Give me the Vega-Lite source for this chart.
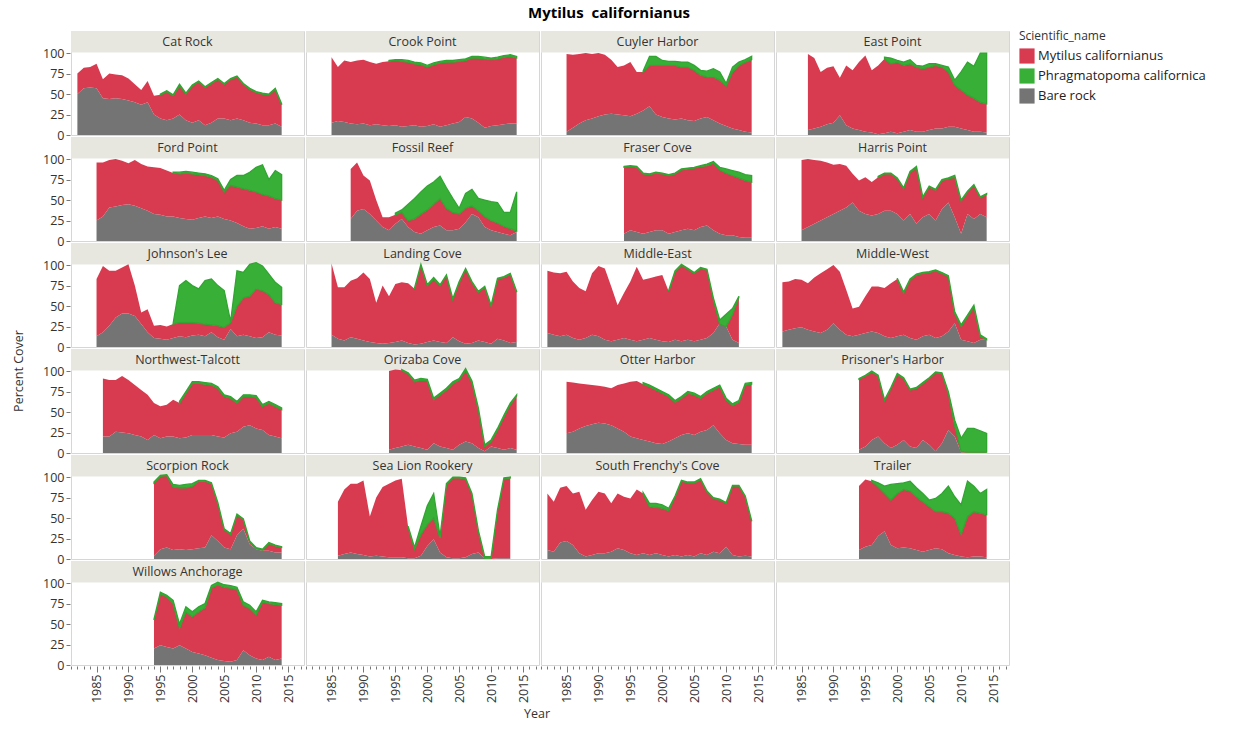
{
"$schema": "https://vega.github.io/schema/vega-lite/v6.json",
"padding": {"left": 12, "top": 5, "right": 5, "bottom": 2},
"title": {"text": "Mytilus\u00a0 californianus", "fontSize": 15, "fontWeight": "bold", "anchor": "middle", "color": "#000", "offset": 10},
"datasets": {"cover": [
{"s":"Cat Rock","yr":1982,"b":50,"m":75},{"s":"Cat Rock","yr":1983,"b":57,"m":82},{"s":"Cat Rock","yr":1984,"b":58,"m":83},{"s":"Cat Rock","yr":1985,"b":57,"m":87},{"s":"Cat Rock","yr":1986,"b":45,"m":68},{"s":"Cat Rock","yr":1987,"b":44,"m":75},{"s":"Cat Rock","yr":1988,"b":45,"m":74},{"s":"Cat Rock","yr":1989,"b":44,"m":73},{"s":"Cat Rock","yr":1990,"b":42,"m":69},{"s":"Cat Rock","yr":1991,"b":40,"m":62},{"s":"Cat Rock","yr":1992,"b":37,"m":55},{"s":"Cat Rock","yr":1993,"b":40,"m":66},{"s":"Cat Rock","yr":1994,"b":25,"m":48},{"s":"Cat Rock","yr":1995,"b":20,"m":49,"t":50},{"s":"Cat Rock","yr":1996,"b":18,"m":53,"t":54},{"s":"Cat Rock","yr":1997,"b":20,"m":48,"t":49},{"s":"Cat Rock","yr":1998,"b":25,"m":60,"t":62},{"s":"Cat Rock","yr":1999,"b":18,"m":50,"t":51},{"s":"Cat Rock","yr":2000,"b":15,"m":60,"t":61},{"s":"Cat Rock","yr":2001,"b":18,"m":65,"t":66},{"s":"Cat Rock","yr":2002,"b":12,"m":58,"t":59},{"s":"Cat Rock","yr":2003,"b":15,"m":63,"t":64},{"s":"Cat Rock","yr":2004,"b":20,"m":68,"t":69},{"s":"Cat Rock","yr":2005,"b":20,"m":62,"t":63},{"s":"Cat Rock","yr":2006,"b":18,"m":68,"t":69},{"s":"Cat Rock","yr":2007,"b":20,"m":71,"t":72},{"s":"Cat Rock","yr":2008,"b":18,"m":62,"t":63},{"s":"Cat Rock","yr":2009,"b":15,"m":56,"t":57},{"s":"Cat Rock","yr":2010,"b":14,"m":52,"t":53},{"s":"Cat Rock","yr":2011,"b":12,"m":50,"t":51},{"s":"Cat Rock","yr":2012,"b":12,"m":49,"t":50},{"s":"Cat Rock","yr":2013,"b":14,"m":56,"t":57},{"s":"Cat Rock","yr":2014,"b":10,"m":37,"t":38},
{"s":"Crook Point","yr":1985,"b":15,"m":95},{"s":"Crook Point","yr":1986,"b":17,"m":83},{"s":"Crook Point","yr":1987,"b":16,"m":91},{"s":"Crook Point","yr":1988,"b":14,"m":89},{"s":"Crook Point","yr":1989,"b":13,"m":91},{"s":"Crook Point","yr":1990,"b":14,"m":92},{"s":"Crook Point","yr":1991,"b":12,"m":89},{"s":"Crook Point","yr":1992,"b":13,"m":87},{"s":"Crook Point","yr":1993,"b":12,"m":89},{"s":"Crook Point","yr":1994,"b":11,"m":90,"t":91},{"s":"Crook Point","yr":1995,"b":12,"m":91,"t":92},{"s":"Crook Point","yr":1996,"b":10,"m":90,"t":92},{"s":"Crook Point","yr":1997,"b":11,"m":89,"t":91},{"s":"Crook Point","yr":1998,"b":12,"m":87,"t":89},{"s":"Crook Point","yr":1999,"b":10,"m":86,"t":88},{"s":"Crook Point","yr":2000,"b":11,"m":83,"t":85},{"s":"Crook Point","yr":2001,"b":13,"m":86,"t":88},{"s":"Crook Point","yr":2002,"b":10,"m":88,"t":90},{"s":"Crook Point","yr":2003,"b":12,"m":89,"t":91},{"s":"Crook Point","yr":2004,"b":14,"m":89,"t":91},{"s":"Crook Point","yr":2005,"b":16,"m":90,"t":92},{"s":"Crook Point","yr":2006,"b":22,"m":91,"t":93},{"s":"Crook Point","yr":2007,"b":20,"m":94,"t":96},{"s":"Crook Point","yr":2008,"b":15,"m":94,"t":96},{"s":"Crook Point","yr":2009,"b":9,"m":93,"t":95},{"s":"Crook Point","yr":2010,"b":11,"m":92,"t":94},{"s":"Crook Point","yr":2011,"b":12,"m":93,"t":95},{"s":"Crook Point","yr":2012,"b":13,"m":95,"t":97},{"s":"Crook Point","yr":2013,"b":14,"m":96,"t":98},{"s":"Crook Point","yr":2014,"b":14,"m":94,"t":96},
{"s":"Cuyler Harbor","yr":1985,"b":4,"m":99},{"s":"Cuyler Harbor","yr":1986,"b":9,"m":98},{"s":"Cuyler Harbor","yr":1987,"b":14,"m":99},{"s":"Cuyler Harbor","yr":1988,"b":18,"m":100},{"s":"Cuyler Harbor","yr":1989,"b":20,"m":99},{"s":"Cuyler Harbor","yr":1990,"b":23,"m":100},{"s":"Cuyler Harbor","yr":1991,"b":25,"m":98},{"s":"Cuyler Harbor","yr":1992,"b":26,"m":92},{"s":"Cuyler Harbor","yr":1993,"b":25,"m":83},{"s":"Cuyler Harbor","yr":1994,"b":24,"m":85},{"s":"Cuyler Harbor","yr":1995,"b":23,"m":89},{"s":"Cuyler Harbor","yr":1996,"b":26,"m":77},{"s":"Cuyler Harbor","yr":1997,"b":30,"m":77,"t":78},{"s":"Cuyler Harbor","yr":1998,"b":35,"m":85,"t":96},{"s":"Cuyler Harbor","yr":1999,"b":25,"m":85,"t":96},{"s":"Cuyler Harbor","yr":2000,"b":22,"m":85,"t":91},{"s":"Cuyler Harbor","yr":2001,"b":20,"m":85,"t":90},{"s":"Cuyler Harbor","yr":2002,"b":19,"m":85,"t":90},{"s":"Cuyler Harbor","yr":2003,"b":20,"m":83,"t":89},{"s":"Cuyler Harbor","yr":2004,"b":18,"m":83,"t":89},{"s":"Cuyler Harbor","yr":2005,"b":17,"m":79,"t":85},{"s":"Cuyler Harbor","yr":2006,"b":20,"m":73,"t":79},{"s":"Cuyler Harbor","yr":2007,"b":22,"m":71,"t":78},{"s":"Cuyler Harbor","yr":2008,"b":18,"m":71,"t":81},{"s":"Cuyler Harbor","yr":2009,"b":14,"m":67,"t":77},{"s":"Cuyler Harbor","yr":2010,"b":11,"m":60,"t":63},{"s":"Cuyler Harbor","yr":2011,"b":8,"m":77,"t":83},{"s":"Cuyler Harbor","yr":2012,"b":6,"m":85,"t":89},{"s":"Cuyler Harbor","yr":2013,"b":4,"m":89,"t":92},{"s":"Cuyler Harbor","yr":2014,"b":3,"m":92,"t":96},
{"s":"East Point","yr":1986,"b":6,"m":99},{"s":"East Point","yr":1987,"b":8,"m":94},{"s":"East Point","yr":1988,"b":10,"m":77},{"s":"East Point","yr":1989,"b":13,"m":82},{"s":"East Point","yr":1990,"b":15,"m":84},{"s":"East Point","yr":1991,"b":24,"m":70},{"s":"East Point","yr":1992,"b":12,"m":85},{"s":"East Point","yr":1993,"b":8,"m":79},{"s":"East Point","yr":1994,"b":6,"m":89},{"s":"East Point","yr":1995,"b":4,"m":97},{"s":"East Point","yr":1996,"b":3,"m":79},{"s":"East Point","yr":1997,"b":1,"m":85},{"s":"East Point","yr":1998,"b":2,"m":93,"t":95},{"s":"East Point","yr":1999,"b":4,"m":87,"t":94},{"s":"East Point","yr":2000,"b":2,"m":89,"t":91},{"s":"East Point","yr":2001,"b":4,"m":85,"t":89},{"s":"East Point","yr":2002,"b":6,"m":87,"t":92},{"s":"East Point","yr":2003,"b":4,"m":83,"t":85},{"s":"East Point","yr":2004,"b":4,"m":81,"t":84},{"s":"East Point","yr":2005,"b":6,"m":83,"t":87},{"s":"East Point","yr":2006,"b":8,"m":85,"t":87},{"s":"East Point","yr":2007,"b":8,"m":83,"t":85},{"s":"East Point","yr":2008,"b":10,"m":77,"t":83},{"s":"East Point","yr":2009,"b":10,"m":61,"t":67},{"s":"East Point","yr":2010,"b":8,"m":55,"t":77},{"s":"East Point","yr":2011,"b":6,"m":49,"t":89},{"s":"East Point","yr":2012,"b":4,"m":45,"t":84},{"s":"East Point","yr":2013,"b":4,"m":40,"t":100},{"s":"East Point","yr":2014,"b":3,"m":38,"t":100},
{"s":"Ford Point","yr":1985,"b":25,"m":96},{"s":"Ford Point","yr":1986,"b":30,"m":96},{"s":"Ford Point","yr":1987,"b":41,"m":99},{"s":"Ford Point","yr":1988,"b":42,"m":100},{"s":"Ford Point","yr":1989,"b":44,"m":98},{"s":"Ford Point","yr":1990,"b":45,"m":95},{"s":"Ford Point","yr":1991,"b":43,"m":99},{"s":"Ford Point","yr":1992,"b":40,"m":94},{"s":"Ford Point","yr":1993,"b":37,"m":91},{"s":"Ford Point","yr":1994,"b":33,"m":90},{"s":"Ford Point","yr":1995,"b":32,"m":89},{"s":"Ford Point","yr":1996,"b":30,"m":86},{"s":"Ford Point","yr":1997,"b":30,"m":83,"t":84},{"s":"Ford Point","yr":1998,"b":28,"m":82,"t":84},{"s":"Ford Point","yr":1999,"b":27,"m":83,"t":85},{"s":"Ford Point","yr":2000,"b":26,"m":82,"t":84},{"s":"Ford Point","yr":2001,"b":28,"m":81,"t":83},{"s":"Ford Point","yr":2002,"b":30,"m":80,"t":82},{"s":"Ford Point","yr":2003,"b":28,"m":78,"t":80},{"s":"Ford Point","yr":2004,"b":30,"m":74,"t":76},{"s":"Ford Point","yr":2005,"b":27,"m":60,"t":62},{"s":"Ford Point","yr":2006,"b":25,"m":68,"t":75},{"s":"Ford Point","yr":2007,"b":22,"m":66,"t":80},{"s":"Ford Point","yr":2008,"b":18,"m":64,"t":80},{"s":"Ford Point","yr":2009,"b":15,"m":62,"t":84},{"s":"Ford Point","yr":2010,"b":16,"m":60,"t":90},{"s":"Ford Point","yr":2011,"b":18,"m":57,"t":93},{"s":"Ford Point","yr":2012,"b":15,"m":55,"t":75},{"s":"Ford Point","yr":2013,"b":17,"m":52,"t":86},{"s":"Ford Point","yr":2014,"b":15,"m":50,"t":81},
{"s":"Fossil Reef","yr":1988,"b":27,"m":88},{"s":"Fossil Reef","yr":1989,"b":37,"m":96},{"s":"Fossil Reef","yr":1990,"b":39,"m":80},{"s":"Fossil Reef","yr":1991,"b":33,"m":74},{"s":"Fossil Reef","yr":1992,"b":25,"m":50},{"s":"Fossil Reef","yr":1993,"b":17,"m":29},{"s":"Fossil Reef","yr":1994,"b":13,"m":29},{"s":"Fossil Reef","yr":1995,"b":21,"m":32,"t":34},{"s":"Fossil Reef","yr":1996,"b":27,"m":35,"t":38},{"s":"Fossil Reef","yr":1997,"b":17,"m":25,"t":45},{"s":"Fossil Reef","yr":1998,"b":11,"m":27,"t":52},{"s":"Fossil Reef","yr":1999,"b":9,"m":33,"t":60},{"s":"Fossil Reef","yr":2000,"b":13,"m":38,"t":67},{"s":"Fossil Reef","yr":2001,"b":17,"m":45,"t":72},{"s":"Fossil Reef","yr":2002,"b":19,"m":52,"t":79},{"s":"Fossil Reef","yr":2003,"b":13,"m":40,"t":65},{"s":"Fossil Reef","yr":2004,"b":13,"m":35,"t":52},{"s":"Fossil Reef","yr":2005,"b":15,"m":33,"t":40},{"s":"Fossil Reef","yr":2006,"b":23,"m":40,"t":58},{"s":"Fossil Reef","yr":2007,"b":33,"m":43,"t":63},{"s":"Fossil Reef","yr":2008,"b":29,"m":37,"t":52},{"s":"Fossil Reef","yr":2009,"b":17,"m":30,"t":50},{"s":"Fossil Reef","yr":2010,"b":13,"m":25,"t":48},{"s":"Fossil Reef","yr":2011,"b":11,"m":22,"t":47},{"s":"Fossil Reef","yr":2012,"b":9,"m":18,"t":35},{"s":"Fossil Reef","yr":2013,"b":7,"m":15,"t":35},{"s":"Fossil Reef","yr":2014,"b":11,"m":12,"t":60},
{"s":"Fraser Cove","yr":1994,"b":9,"m":90,"t":91},{"s":"Fraser Cove","yr":1995,"b":13,"m":91,"t":92},{"s":"Fraser Cove","yr":1996,"b":11,"m":90,"t":91},{"s":"Fraser Cove","yr":1997,"b":9,"m":82,"t":83},{"s":"Fraser Cove","yr":1998,"b":11,"m":81,"t":82},{"s":"Fraser Cove","yr":1999,"b":13,"m":83,"t":84},{"s":"Fraser Cove","yr":2000,"b":13,"m":82,"t":83},{"s":"Fraser Cove","yr":2001,"b":9,"m":80,"t":81},{"s":"Fraser Cove","yr":2002,"b":11,"m":82,"t":83},{"s":"Fraser Cove","yr":2003,"b":13,"m":87,"t":88},{"s":"Fraser Cove","yr":2004,"b":15,"m":88,"t":89},{"s":"Fraser Cove","yr":2005,"b":13,"m":89,"t":90},{"s":"Fraser Cove","yr":2006,"b":17,"m":91,"t":92},{"s":"Fraser Cove","yr":2007,"b":19,"m":92,"t":94},{"s":"Fraser Cove","yr":2008,"b":13,"m":95,"t":97},{"s":"Fraser Cove","yr":2009,"b":9,"m":87,"t":90},{"s":"Fraser Cove","yr":2010,"b":7,"m":83,"t":88},{"s":"Fraser Cove","yr":2011,"b":7,"m":80,"t":86},{"s":"Fraser Cove","yr":2012,"b":5,"m":77,"t":84},{"s":"Fraser Cove","yr":2013,"b":4,"m":74,"t":81},{"s":"Fraser Cove","yr":2014,"b":4,"m":72,"t":80},
{"s":"Harris Point","yr":1985,"b":13,"m":99},{"s":"Harris Point","yr":1986,"b":17,"m":100},{"s":"Harris Point","yr":1987,"b":21,"m":99},{"s":"Harris Point","yr":1988,"b":25,"m":98},{"s":"Harris Point","yr":1989,"b":29,"m":96},{"s":"Harris Point","yr":1990,"b":33,"m":93},{"s":"Harris Point","yr":1991,"b":37,"m":94},{"s":"Harris Point","yr":1992,"b":41,"m":92},{"s":"Harris Point","yr":1993,"b":47,"m":82},{"s":"Harris Point","yr":1994,"b":37,"m":74},{"s":"Harris Point","yr":1995,"b":33,"m":78},{"s":"Harris Point","yr":1996,"b":31,"m":72},{"s":"Harris Point","yr":1997,"b":33,"m":78,"t":79},{"s":"Harris Point","yr":1998,"b":37,"m":82,"t":83},{"s":"Harris Point","yr":1999,"b":37,"m":82,"t":83},{"s":"Harris Point","yr":2000,"b":33,"m":76,"t":77},{"s":"Harris Point","yr":2001,"b":25,"m":64,"t":65},{"s":"Harris Point","yr":2002,"b":33,"m":84,"t":85},{"s":"Harris Point","yr":2003,"b":21,"m":89,"t":91},{"s":"Harris Point","yr":2004,"b":29,"m":53,"t":54},{"s":"Harris Point","yr":2005,"b":33,"m":66,"t":67},{"s":"Harris Point","yr":2006,"b":25,"m":62,"t":63},{"s":"Harris Point","yr":2007,"b":39,"m":74,"t":75},{"s":"Harris Point","yr":2008,"b":47,"m":76,"t":77},{"s":"Harris Point","yr":2009,"b":29,"m":78,"t":80},{"s":"Harris Point","yr":2010,"b":9,"m":49,"t":50},{"s":"Harris Point","yr":2011,"b":33,"m":60,"t":61},{"s":"Harris Point","yr":2012,"b":27,"m":68,"t":69},{"s":"Harris Point","yr":2013,"b":33,"m":53,"t":54},{"s":"Harris Point","yr":2014,"b":29,"m":57,"t":58},
{"s":"Johnson's Lee","yr":1985,"b":13,"m":83},{"s":"Johnson's Lee","yr":1986,"b":18,"m":99},{"s":"Johnson's Lee","yr":1987,"b":26,"m":93},{"s":"Johnson's Lee","yr":1988,"b":36,"m":93},{"s":"Johnson's Lee","yr":1989,"b":41,"m":97},{"s":"Johnson's Lee","yr":1990,"b":41,"m":101},{"s":"Johnson's Lee","yr":1991,"b":38,"m":75},{"s":"Johnson's Lee","yr":1992,"b":28,"m":42},{"s":"Johnson's Lee","yr":1993,"b":18,"m":46},{"s":"Johnson's Lee","yr":1994,"b":11,"m":26},{"s":"Johnson's Lee","yr":1995,"b":10,"m":27},{"s":"Johnson's Lee","yr":1996,"b":9,"m":25},{"s":"Johnson's Lee","yr":1997,"b":11,"m":28,"t":29},{"s":"Johnson's Lee","yr":1998,"b":13,"m":30,"t":75},{"s":"Johnson's Lee","yr":1999,"b":12,"m":30,"t":81},{"s":"Johnson's Lee","yr":2000,"b":14,"m":30,"t":75},{"s":"Johnson's Lee","yr":2001,"b":15,"m":29,"t":71},{"s":"Johnson's Lee","yr":2002,"b":13,"m":28,"t":81},{"s":"Johnson's Lee","yr":2003,"b":18,"m":27,"t":83},{"s":"Johnson's Lee","yr":2004,"b":12,"m":26,"t":75},{"s":"Johnson's Lee","yr":2005,"b":9,"m":24,"t":69},{"s":"Johnson's Lee","yr":2006,"b":22,"m":30,"t":31},{"s":"Johnson's Lee","yr":2007,"b":13,"m":50,"t":93},{"s":"Johnson's Lee","yr":2008,"b":15,"m":60,"t":91},{"s":"Johnson's Lee","yr":2009,"b":13,"m":62,"t":101},{"s":"Johnson's Lee","yr":2010,"b":11,"m":71,"t":103},{"s":"Johnson's Lee","yr":2011,"b":12,"m":69,"t":99},{"s":"Johnson's Lee","yr":2012,"b":18,"m":64,"t":89},{"s":"Johnson's Lee","yr":2013,"b":15,"m":54,"t":79},{"s":"Johnson's Lee","yr":2014,"b":14,"m":52,"t":73},
{"s":"Landing Cove","yr":1985,"b":15,"m":102},{"s":"Landing Cove","yr":1986,"b":10,"m":73},{"s":"Landing Cove","yr":1987,"b":8,"m":73},{"s":"Landing Cove","yr":1988,"b":12,"m":81},{"s":"Landing Cove","yr":1989,"b":10,"m":84},{"s":"Landing Cove","yr":1990,"b":8,"m":91},{"s":"Landing Cove","yr":1991,"b":6,"m":83},{"s":"Landing Cove","yr":1992,"b":5,"m":54},{"s":"Landing Cove","yr":1993,"b":4,"m":75},{"s":"Landing Cove","yr":1994,"b":5,"m":62},{"s":"Landing Cove","yr":1995,"b":6,"m":77},{"s":"Landing Cove","yr":1996,"b":8,"m":79},{"s":"Landing Cove","yr":1997,"b":5,"m":78},{"s":"Landing Cove","yr":1998,"b":3,"m":71,"t":72},{"s":"Landing Cove","yr":1999,"b":4,"m":100,"t":101},{"s":"Landing Cove","yr":2000,"b":6,"m":75,"t":76},{"s":"Landing Cove","yr":2001,"b":8,"m":83,"t":85},{"s":"Landing Cove","yr":2002,"b":6,"m":75,"t":76},{"s":"Landing Cove","yr":2003,"b":5,"m":87,"t":88},{"s":"Landing Cove","yr":2004,"b":12,"m":58,"t":59},{"s":"Landing Cove","yr":2005,"b":7,"m":79,"t":80},{"s":"Landing Cove","yr":2006,"b":4,"m":95,"t":96},{"s":"Landing Cove","yr":2007,"b":5,"m":79,"t":80},{"s":"Landing Cove","yr":2008,"b":8,"m":67,"t":68},{"s":"Landing Cove","yr":2009,"b":6,"m":73,"t":74},{"s":"Landing Cove","yr":2010,"b":4,"m":50,"t":51},{"s":"Landing Cove","yr":2011,"b":10,"m":83,"t":84},{"s":"Landing Cove","yr":2012,"b":8,"m":85,"t":86},{"s":"Landing Cove","yr":2013,"b":5,"m":89,"t":90},{"s":"Landing Cove","yr":2014,"b":6,"m":67,"t":68},
{"s":"Middle-East","yr":1982,"b":17,"m":93},{"s":"Middle-East","yr":1983,"b":15,"m":91},{"s":"Middle-East","yr":1984,"b":13,"m":90},{"s":"Middle-East","yr":1985,"b":15,"m":92},{"s":"Middle-East","yr":1986,"b":11,"m":80},{"s":"Middle-East","yr":1987,"b":9,"m":72},{"s":"Middle-East","yr":1988,"b":11,"m":68},{"s":"Middle-East","yr":1989,"b":15,"m":90},{"s":"Middle-East","yr":1990,"b":13,"m":99},{"s":"Middle-East","yr":1991,"b":9,"m":96},{"s":"Middle-East","yr":1992,"b":7,"m":74},{"s":"Middle-East","yr":1993,"b":9,"m":51},{"s":"Middle-East","yr":1994,"b":11,"m":66},{"s":"Middle-East","yr":1995,"b":9,"m":80},{"s":"Middle-East","yr":1996,"b":7,"m":98},{"s":"Middle-East","yr":1997,"b":9,"m":82},{"s":"Middle-East","yr":1998,"b":11,"m":84},{"s":"Middle-East","yr":1999,"b":9,"m":86},{"s":"Middle-East","yr":2000,"b":7,"m":88},{"s":"Middle-East","yr":2001,"b":6,"m":68,"t":69},{"s":"Middle-East","yr":2002,"b":9,"m":92,"t":93},{"s":"Middle-East","yr":2003,"b":7,"m":100,"t":101},{"s":"Middle-East","yr":2004,"b":9,"m":95,"t":96},{"s":"Middle-East","yr":2005,"b":7,"m":90,"t":91},{"s":"Middle-East","yr":2006,"b":9,"m":96,"t":97},{"s":"Middle-East","yr":2007,"b":11,"m":94,"t":95},{"s":"Middle-East","yr":2008,"b":17,"m":58,"t":60},{"s":"Middle-East","yr":2009,"b":29,"m":28,"t":33},{"s":"Middle-East","yr":2010,"b":25,"m":25,"t":40},{"s":"Middle-East","yr":2011,"b":9,"m":40,"t":47},{"s":"Middle-East","yr":2012,"b":5,"m":61,"t":62},
{"s":"Middle-West","yr":1982,"b":19,"m":79},{"s":"Middle-West","yr":1983,"b":21,"m":80},{"s":"Middle-West","yr":1984,"b":23,"m":83},{"s":"Middle-West","yr":1985,"b":24,"m":82},{"s":"Middle-West","yr":1986,"b":21,"m":78},{"s":"Middle-West","yr":1987,"b":19,"m":85},{"s":"Middle-West","yr":1988,"b":17,"m":90},{"s":"Middle-West","yr":1989,"b":21,"m":95},{"s":"Middle-West","yr":1990,"b":29,"m":100},{"s":"Middle-West","yr":1991,"b":21,"m":92},{"s":"Middle-West","yr":1992,"b":15,"m":70},{"s":"Middle-West","yr":1993,"b":13,"m":47},{"s":"Middle-West","yr":1994,"b":15,"m":49},{"s":"Middle-West","yr":1995,"b":17,"m":62},{"s":"Middle-West","yr":1996,"b":19,"m":74},{"s":"Middle-West","yr":1997,"b":17,"m":74},{"s":"Middle-West","yr":1998,"b":13,"m":72},{"s":"Middle-West","yr":1999,"b":11,"m":78},{"s":"Middle-West","yr":2000,"b":13,"m":83,"t":84},{"s":"Middle-West","yr":2001,"b":15,"m":66,"t":67},{"s":"Middle-West","yr":2002,"b":11,"m":82,"t":83},{"s":"Middle-West","yr":2003,"b":9,"m":88,"t":89},{"s":"Middle-West","yr":2004,"b":13,"m":90,"t":91},{"s":"Middle-West","yr":2005,"b":15,"m":91,"t":92},{"s":"Middle-West","yr":2006,"b":11,"m":93,"t":94},{"s":"Middle-West","yr":2007,"b":13,"m":90,"t":91},{"s":"Middle-West","yr":2008,"b":19,"m":86,"t":87},{"s":"Middle-West","yr":2009,"b":29,"m":41,"t":43},{"s":"Middle-West","yr":2010,"b":9,"m":25,"t":27},{"s":"Middle-West","yr":2011,"b":7,"m":37,"t":39},{"s":"Middle-West","yr":2012,"b":5,"m":49,"t":51},{"s":"Middle-West","yr":2013,"b":9,"m":13,"t":15},{"s":"Middle-West","yr":2014,"b":9,"m":9,"t":10},
{"s":"Northwest-Talcott","yr":1986,"b":20,"m":91},{"s":"Northwest-Talcott","yr":1987,"b":20,"m":89},{"s":"Northwest-Talcott","yr":1988,"b":26,"m":89},{"s":"Northwest-Talcott","yr":1989,"b":25,"m":94},{"s":"Northwest-Talcott","yr":1990,"b":24,"m":89},{"s":"Northwest-Talcott","yr":1991,"b":22,"m":83},{"s":"Northwest-Talcott","yr":1992,"b":20,"m":77},{"s":"Northwest-Talcott","yr":1993,"b":16,"m":71},{"s":"Northwest-Talcott","yr":1994,"b":22,"m":61},{"s":"Northwest-Talcott","yr":1995,"b":18,"m":57},{"s":"Northwest-Talcott","yr":1996,"b":20,"m":59},{"s":"Northwest-Talcott","yr":1997,"b":20,"m":65},{"s":"Northwest-Talcott","yr":1998,"b":18,"m":61,"t":63},{"s":"Northwest-Talcott","yr":1999,"b":19,"m":73,"t":75},{"s":"Northwest-Talcott","yr":2000,"b":22,"m":85,"t":87},{"s":"Northwest-Talcott","yr":2001,"b":22,"m":85,"t":87},{"s":"Northwest-Talcott","yr":2002,"b":22,"m":84,"t":86},{"s":"Northwest-Talcott","yr":2003,"b":22,"m":83,"t":85},{"s":"Northwest-Talcott","yr":2004,"b":20,"m":79,"t":81},{"s":"Northwest-Talcott","yr":2005,"b":19,"m":69,"t":71},{"s":"Northwest-Talcott","yr":2006,"b":24,"m":67,"t":69},{"s":"Northwest-Talcott","yr":2007,"b":26,"m":61,"t":63},{"s":"Northwest-Talcott","yr":2008,"b":32,"m":69,"t":71},{"s":"Northwest-Talcott","yr":2009,"b":34,"m":69,"t":71},{"s":"Northwest-Talcott","yr":2010,"b":30,"m":68,"t":70},{"s":"Northwest-Talcott","yr":2011,"b":28,"m":57,"t":59},{"s":"Northwest-Talcott","yr":2012,"b":22,"m":61,"t":63},{"s":"Northwest-Talcott","yr":2013,"b":20,"m":57,"t":59},{"s":"Northwest-Talcott","yr":2014,"b":18,"m":53,"t":55},
{"s":"Orizaba Cove","yr":1994,"b":4,"m":100},{"s":"Orizaba Cove","yr":1995,"b":6,"m":102},{"s":"Orizaba Cove","yr":1996,"b":8,"m":101,"t":102},{"s":"Orizaba Cove","yr":1997,"b":10,"m":97,"t":98},{"s":"Orizaba Cove","yr":1998,"b":8,"m":87,"t":89},{"s":"Orizaba Cove","yr":1999,"b":6,"m":89,"t":91},{"s":"Orizaba Cove","yr":2000,"b":4,"m":88,"t":90},{"s":"Orizaba Cove","yr":2001,"b":12,"m":65,"t":67},{"s":"Orizaba Cove","yr":2002,"b":8,"m":71,"t":73},{"s":"Orizaba Cove","yr":2003,"b":6,"m":77,"t":79},{"s":"Orizaba Cove","yr":2004,"b":4,"m":85,"t":87},{"s":"Orizaba Cove","yr":2005,"b":10,"m":89,"t":91},{"s":"Orizaba Cove","yr":2006,"b":14,"m":101,"t":103},{"s":"Orizaba Cove","yr":2007,"b":12,"m":86,"t":88},{"s":"Orizaba Cove","yr":2008,"b":6,"m":53,"t":55},{"s":"Orizaba Cove","yr":2009,"b":2,"m":8,"t":10},{"s":"Orizaba Cove","yr":2010,"b":8,"m":14,"t":16},{"s":"Orizaba Cove","yr":2011,"b":6,"m":28,"t":30},{"s":"Orizaba Cove","yr":2012,"b":4,"m":44,"t":46},{"s":"Orizaba Cove","yr":2013,"b":6,"m":59,"t":61},{"s":"Orizaba Cove","yr":2014,"b":4,"m":70,"t":71},
{"s":"Otter Harbor","yr":1985,"b":24,"m":87},{"s":"Otter Harbor","yr":1986,"b":26,"m":86},{"s":"Otter Harbor","yr":1987,"b":30,"m":85},{"s":"Otter Harbor","yr":1988,"b":33,"m":84},{"s":"Otter Harbor","yr":1989,"b":35,"m":83},{"s":"Otter Harbor","yr":1990,"b":37,"m":82},{"s":"Otter Harbor","yr":1991,"b":36,"m":81},{"s":"Otter Harbor","yr":1992,"b":34,"m":79},{"s":"Otter Harbor","yr":1993,"b":30,"m":83},{"s":"Otter Harbor","yr":1994,"b":26,"m":85},{"s":"Otter Harbor","yr":1995,"b":20,"m":87},{"s":"Otter Harbor","yr":1996,"b":18,"m":88},{"s":"Otter Harbor","yr":1997,"b":16,"m":84,"t":86},{"s":"Otter Harbor","yr":1998,"b":14,"m":81,"t":83},{"s":"Otter Harbor","yr":1999,"b":12,"m":77,"t":79},{"s":"Otter Harbor","yr":2000,"b":11,"m":73,"t":75},{"s":"Otter Harbor","yr":2001,"b":14,"m":69,"t":71},{"s":"Otter Harbor","yr":2002,"b":18,"m":62,"t":64},{"s":"Otter Harbor","yr":2003,"b":22,"m":67,"t":69},{"s":"Otter Harbor","yr":2004,"b":24,"m":73,"t":75},{"s":"Otter Harbor","yr":2005,"b":22,"m":71,"t":73},{"s":"Otter Harbor","yr":2006,"b":26,"m":67,"t":69},{"s":"Otter Harbor","yr":2007,"b":28,"m":73,"t":75},{"s":"Otter Harbor","yr":2008,"b":34,"m":77,"t":79},{"s":"Otter Harbor","yr":2009,"b":24,"m":81,"t":83},{"s":"Otter Harbor","yr":2010,"b":16,"m":65,"t":67},{"s":"Otter Harbor","yr":2011,"b":12,"m":58,"t":60},{"s":"Otter Harbor","yr":2012,"b":11,"m":62,"t":64},{"s":"Otter Harbor","yr":2013,"b":10,"m":83,"t":85},{"s":"Otter Harbor","yr":2014,"b":10,"m":84,"t":86},
{"s":"Prisoner's Harbor","yr":1994,"b":4,"m":90,"t":91},{"s":"Prisoner's Harbor","yr":1995,"b":8,"m":94,"t":95},{"s":"Prisoner's Harbor","yr":1996,"b":16,"m":99,"t":100},{"s":"Prisoner's Harbor","yr":1997,"b":20,"m":94,"t":95},{"s":"Prisoner's Harbor","yr":1998,"b":12,"m":64,"t":65},{"s":"Prisoner's Harbor","yr":1999,"b":6,"m":79,"t":80},{"s":"Prisoner's Harbor","yr":2000,"b":10,"m":96,"t":97},{"s":"Prisoner's Harbor","yr":2001,"b":16,"m":91,"t":92},{"s":"Prisoner's Harbor","yr":2002,"b":8,"m":77,"t":78},{"s":"Prisoner's Harbor","yr":2003,"b":6,"m":79,"t":80},{"s":"Prisoner's Harbor","yr":2004,"b":16,"m":85,"t":86},{"s":"Prisoner's Harbor","yr":2005,"b":10,"m":91,"t":92},{"s":"Prisoner's Harbor","yr":2006,"b":2,"m":98,"t":99},{"s":"Prisoner's Harbor","yr":2007,"b":12,"m":97,"t":98},{"s":"Prisoner's Harbor","yr":2008,"b":28,"m":73,"t":75},{"s":"Prisoner's Harbor","yr":2009,"b":20,"m":33,"t":40},{"s":"Prisoner's Harbor","yr":2010,"b":1,"m":2,"t":18},{"s":"Prisoner's Harbor","yr":2011,"b":0,"m":1,"t":30},{"s":"Prisoner's Harbor","yr":2012,"b":0,"m":1,"t":30},{"s":"Prisoner's Harbor","yr":2013,"b":0,"m":1,"t":27},{"s":"Prisoner's Harbor","yr":2014,"b":0,"m":1,"t":24},
{"s":"Scorpion Rock","yr":1994,"b":4,"m":93,"t":94},{"s":"Scorpion Rock","yr":1995,"b":12,"m":101,"t":102},{"s":"Scorpion Rock","yr":1996,"b":14,"m":102,"t":103},{"s":"Scorpion Rock","yr":1997,"b":11,"m":88,"t":91},{"s":"Scorpion Rock","yr":1998,"b":12,"m":87,"t":90},{"s":"Scorpion Rock","yr":1999,"b":11,"m":87,"t":91},{"s":"Scorpion Rock","yr":2000,"b":12,"m":89,"t":92},{"s":"Scorpion Rock","yr":2001,"b":13,"m":95,"t":96},{"s":"Scorpion Rock","yr":2002,"b":14,"m":95,"t":96},{"s":"Scorpion Rock","yr":2003,"b":29,"m":92,"t":93},{"s":"Scorpion Rock","yr":2004,"b":22,"m":68,"t":69},{"s":"Scorpion Rock","yr":2005,"b":14,"m":36,"t":37},{"s":"Scorpion Rock","yr":2006,"b":12,"m":30,"t":31},{"s":"Scorpion Rock","yr":2007,"b":29,"m":54,"t":55},{"s":"Scorpion Rock","yr":2008,"b":37,"m":48,"t":49},{"s":"Scorpion Rock","yr":2009,"b":18,"m":21,"t":22},{"s":"Scorpion Rock","yr":2010,"b":12,"m":13,"t":14},{"s":"Scorpion Rock","yr":2011,"b":10,"m":11,"t":12},{"s":"Scorpion Rock","yr":2012,"b":10,"m":19,"t":20},{"s":"Scorpion Rock","yr":2013,"b":8,"m":16,"t":17},{"s":"Scorpion Rock","yr":2014,"b":8,"m":14,"t":15},
{"s":"Sea Lion Rookery","yr":1986,"b":4,"m":70},{"s":"Sea Lion Rookery","yr":1987,"b":6,"m":85},{"s":"Sea Lion Rookery","yr":1988,"b":8,"m":92},{"s":"Sea Lion Rookery","yr":1989,"b":6,"m":92},{"s":"Sea Lion Rookery","yr":1990,"b":5,"m":96},{"s":"Sea Lion Rookery","yr":1991,"b":3,"m":52},{"s":"Sea Lion Rookery","yr":1992,"b":4,"m":75},{"s":"Sea Lion Rookery","yr":1993,"b":3,"m":88},{"s":"Sea Lion Rookery","yr":1994,"b":2,"m":92},{"s":"Sea Lion Rookery","yr":1995,"b":2,"m":96},{"s":"Sea Lion Rookery","yr":1996,"b":2,"m":98},{"s":"Sea Lion Rookery","yr":1997,"b":1,"m":39,"t":40},{"s":"Sea Lion Rookery","yr":1998,"b":1,"m":12,"t":14},{"s":"Sea Lion Rookery","yr":1999,"b":4,"m":30,"t":40},{"s":"Sea Lion Rookery","yr":2000,"b":16,"m":42,"t":65},{"s":"Sea Lion Rookery","yr":2001,"b":24,"m":50,"t":80},{"s":"Sea Lion Rookery","yr":2002,"b":8,"m":26,"t":28},{"s":"Sea Lion Rookery","yr":2003,"b":2,"m":91,"t":92},{"s":"Sea Lion Rookery","yr":2004,"b":1,"m":99,"t":100},{"s":"Sea Lion Rookery","yr":2005,"b":1,"m":99,"t":100},{"s":"Sea Lion Rookery","yr":2006,"b":2,"m":98,"t":99},{"s":"Sea Lion Rookery","yr":2007,"b":6,"m":79,"t":80},{"s":"Sea Lion Rookery","yr":2008,"b":8,"m":34,"t":35},{"s":"Sea Lion Rookery","yr":2009,"b":1,"m":1,"t":3},{"s":"Sea Lion Rookery","yr":2010,"b":0,"m":1,"t":3},{"s":"Sea Lion Rookery","yr":2011,"b":1,"m":59,"t":60},{"s":"Sea Lion Rookery","yr":2012,"b":1,"m":98,"t":99},{"s":"Sea Lion Rookery","yr":2013,"b":1,"m":99,"t":100},
{"s":"South Frenchy's Cove","yr":1982,"b":11,"m":80},{"s":"South Frenchy's Cove","yr":1983,"b":9,"m":70},{"s":"South Frenchy's Cove","yr":1984,"b":20,"m":87},{"s":"South Frenchy's Cove","yr":1985,"b":22,"m":89},{"s":"South Frenchy's Cove","yr":1986,"b":17,"m":80},{"s":"South Frenchy's Cove","yr":1987,"b":7,"m":82},{"s":"South Frenchy's Cove","yr":1988,"b":3,"m":60},{"s":"South Frenchy's Cove","yr":1989,"b":5,"m":72},{"s":"South Frenchy's Cove","yr":1990,"b":7,"m":82},{"s":"South Frenchy's Cove","yr":1991,"b":7,"m":80},{"s":"South Frenchy's Cove","yr":1992,"b":9,"m":68},{"s":"South Frenchy's Cove","yr":1993,"b":13,"m":80},{"s":"South Frenchy's Cove","yr":1994,"b":11,"m":76},{"s":"South Frenchy's Cove","yr":1995,"b":7,"m":74},{"s":"South Frenchy's Cove","yr":1996,"b":5,"m":85},{"s":"South Frenchy's Cove","yr":1997,"b":7,"m":80,"t":81},{"s":"South Frenchy's Cove","yr":1998,"b":5,"m":64,"t":68},{"s":"South Frenchy's Cove","yr":1999,"b":7,"m":63,"t":68},{"s":"South Frenchy's Cove","yr":2000,"b":5,"m":62,"t":66},{"s":"South Frenchy's Cove","yr":2001,"b":3,"m":59,"t":62},{"s":"South Frenchy's Cove","yr":2002,"b":5,"m":76,"t":77},{"s":"South Frenchy's Cove","yr":2003,"b":3,"m":95,"t":96},{"s":"South Frenchy's Cove","yr":2004,"b":5,"m":93,"t":94},{"s":"South Frenchy's Cove","yr":2005,"b":3,"m":93,"t":94},{"s":"South Frenchy's Cove","yr":2006,"b":7,"m":97,"t":98},{"s":"South Frenchy's Cove","yr":2007,"b":5,"m":82,"t":83},{"s":"South Frenchy's Cove","yr":2008,"b":9,"m":74,"t":75},{"s":"South Frenchy's Cove","yr":2009,"b":7,"m":72,"t":73},{"s":"South Frenchy's Cove","yr":2010,"b":15,"m":68,"t":69},{"s":"South Frenchy's Cove","yr":2011,"b":5,"m":89,"t":90},{"s":"South Frenchy's Cove","yr":2012,"b":3,"m":89,"t":90},{"s":"South Frenchy's Cove","yr":2013,"b":4,"m":76,"t":77},{"s":"South Frenchy's Cove","yr":2014,"b":3,"m":46,"t":47},
{"s":"Trailer","yr":1994,"b":11,"m":89},{"s":"Trailer","yr":1995,"b":15,"m":97},{"s":"Trailer","yr":1996,"b":17,"m":95,"t":96},{"s":"Trailer","yr":1997,"b":28,"m":88,"t":93},{"s":"Trailer","yr":1998,"b":34,"m":80,"t":89},{"s":"Trailer","yr":1999,"b":17,"m":72,"t":91},{"s":"Trailer","yr":2000,"b":13,"m":80,"t":92},{"s":"Trailer","yr":2001,"b":14,"m":85,"t":93},{"s":"Trailer","yr":2002,"b":13,"m":83,"t":95},{"s":"Trailer","yr":2003,"b":11,"m":76,"t":87},{"s":"Trailer","yr":2004,"b":9,"m":70,"t":80},{"s":"Trailer","yr":2005,"b":11,"m":64,"t":72},{"s":"Trailer","yr":2006,"b":13,"m":58,"t":74},{"s":"Trailer","yr":2007,"b":12,"m":58,"t":80},{"s":"Trailer","yr":2008,"b":7,"m":56,"t":89},{"s":"Trailer","yr":2009,"b":5,"m":50,"t":76},{"s":"Trailer","yr":2010,"b":3,"m":30,"t":66},{"s":"Trailer","yr":2011,"b":2,"m":52,"t":95},{"s":"Trailer","yr":2012,"b":3,"m":58,"t":89},{"s":"Trailer","yr":2013,"b":3,"m":56,"t":80},{"s":"Trailer","yr":2014,"b":2,"m":54,"t":85},
{"s":"Willows Anchorage","yr":1994,"b":20,"m":55,"t":56},{"s":"Willows Anchorage","yr":1995,"b":24,"m":87,"t":89},{"s":"Willows Anchorage","yr":1996,"b":22,"m":83,"t":85},{"s":"Willows Anchorage","yr":1997,"b":20,"m":75,"t":79},{"s":"Willows Anchorage","yr":1998,"b":24,"m":45,"t":50},{"s":"Willows Anchorage","yr":1999,"b":20,"m":65,"t":71},{"s":"Willows Anchorage","yr":2000,"b":16,"m":59,"t":65},{"s":"Willows Anchorage","yr":2001,"b":14,"m":65,"t":71},{"s":"Willows Anchorage","yr":2002,"b":12,"m":70,"t":75},{"s":"Willows Anchorage","yr":2003,"b":9,"m":94,"t":97},{"s":"Willows Anchorage","yr":2004,"b":6,"m":98,"t":101},{"s":"Willows Anchorage","yr":2005,"b":5,"m":95,"t":98},{"s":"Willows Anchorage","yr":2006,"b":4,"m":94,"t":97},{"s":"Willows Anchorage","yr":2007,"b":6,"m":92,"t":95},{"s":"Willows Anchorage","yr":2008,"b":18,"m":73,"t":77},{"s":"Willows Anchorage","yr":2009,"b":12,"m":69,"t":73},{"s":"Willows Anchorage","yr":2010,"b":8,"m":61,"t":65},{"s":"Willows Anchorage","yr":2011,"b":6,"m":77,"t":79},{"s":"Willows Anchorage","yr":2012,"b":10,"m":75,"t":77},{"s":"Willows Anchorage","yr":2013,"b":6,"m":74,"t":76},{"s":"Willows Anchorage","yr":2014,"b":8,"m":73,"t":75},
{"s":" ","yr":1990,"b":0,"m":0},{"s":"  ","yr":1990,"b":0,"m":0},{"s":"   ","yr":1990,"b":0,"m":0}
]},
"hconcat": [
  {"width": 14, "height": 680,
   "data": {"values": [{"label": "Percent Cover"}]},
   "view": {"stroke": null},
   "mark": {"type": "text", "angle": 270, "fontSize": 12.5, "color": "#333333", "align": "center", "baseline": "middle"},
   "encoding": {
     "x": {"datum": 0, "type": "quantitative", "scale": {"domain": [-1, 1]}, "axis": null},
     "y": {"datum": 0, "type": "quantitative", "scale": {"domain": [-1, 1]}, "axis": null},
     "text": {"field": "label"}}},
  {"vconcat": [
    {"data": {"name": "cover"},
     "facet": {"field": "s", "type": "nominal", "header": {"labels": false, "labelExpr": "''", "labelFontSize": 0, "labelPadding": 0, "title": null},
       "sort": ["Cat Rock","Crook Point","Cuyler Harbor","East Point","Ford Point","Fossil Reef","Fraser Cove","Harris Point","Johnson's Lee","Landing Cove","Middle-East","Middle-West","Northwest-Talcott","Orizaba Cove","Otter Harbor","Prisoner's Harbor","Scorpion Rock","Sea Lion Rookery","South Frenchy's Cove","Trailer","Willows Anchorage"," ","  ","   "]},
     "columns": 4,
     "spacing": {"row": 0, "column": 0},
     "spec": {
       "width": 233,
       "height": 104,
       "encoding": {
         "x": {"type": "quantitative", "title": null, "scale": {"domain": [1981, 2017.5], "nice": false, "zero": false},
               "axis": {"values": [1981,1982,1983,1984,1985,1986,1987,1988,1989,1990,1991,1992,1993,1994,1995,1996,1997,1998,1999,2000,2001,2002,2003,2004,2005,2006,2007,2008,2009,2010,2011,2012,2013,2014,2015,2016,2017], "format": "d", "labelAngle": 270, "labelExpr": "datum.value % 5 === 0 ? datum.label : ''", "tickSize": {"condition": {"test": "datum.value % 5 === 0", "value": 6}, "value": 3}, "labelOverlap": false, "labelFlush": false}},
         "y": {"type": "quantitative", "title": null, "stack": null, "scale": {"domain": [0, 127], "nice": false}, "axis": {"values": [0, 25, 50, 75, 100]}}
       },
       "layer": [
         {"transform": [{"aggregate": [{"op": "count", "as": "n"}], "groupby": ["s"]}],
          "mark": {"type": "rect", "color": "#e8e7df"},
          "encoding": {"x": {"datum": 1981}, "x2": {"datum": 2017.5}, "y": {"datum": 100.6}, "y2": {"datum": 127}}},
         {"mark": {"type": "area", "clip": true},
          "encoding": {
            "x": {"field": "yr"},
            "y": {"field": "b"},
            "color": {"datum": "Bare rock", "title": "Scientific_name", "scale": {"domain": ["Mytilus californianus", "Phragmatopoma californica", "Bare rock"], "range": ["#d83a50", "#38b038", "#747474"]}}}},
         {"mark": {"type": "area", "clip": true},
          "encoding": {
            "x": {"field": "yr"},
            "y": {"field": "m"},
            "y2": {"field": "b"},
            "color": {"datum": "Mytilus californianus", "title": "Scientific_name"}}},
         {"mark": {"type": "area", "clip": true, "stroke": "#31a531", "strokeWidth": 1.3},
          "encoding": {
            "x": {"field": "yr"},
            "y": {"field": "t"},
            "y2": {"field": "m"},
            "color": {"datum": "Phragmatopoma californica", "title": "Scientific_name"}}},
         {"transform": [{"aggregate": [{"op": "count", "as": "n"}], "groupby": ["s"]}],
          "mark": {"type": "text", "fontSize": 12.5, "color": "#333333", "baseline": "middle", "align": "center"},
          "encoding": {"x": {"datum": 1999.25}, "y": {"datum": 113.8}, "text": {"field": "s"}}}
       ]
     }
    },
    {"width": 932, "height": 16,
     "data": {"values": [{"label": "Year"}]},
     "view": {"stroke": null},
     "mark": {"type": "text", "fontSize": 12.5, "color": "#333333", "align": "center", "baseline": "middle"},
     "encoding": {
       "x": {"datum": 0, "type": "quantitative", "scale": {"domain": [-1, 1]}, "axis": null},
       "y": {"datum": 0, "type": "quantitative", "scale": {"domain": [-1, 1]}, "axis": {"values": [0], "labelExpr": "'100'", "labelOpacity": 0, "tickOpacity": 0, "title": null}},
       "text": {"field": "label"}}}
  ],
  "spacing": 3,
  "resolve": {"scale": {"x": "independent", "y": "independent"}}}
],
"spacing": 16,
"resolve": {"scale": {"x": "independent", "y": "independent"}},
"config": {
  "font": "Open Sans",
  "view": {"stroke": "#d6d6d6", "strokeWidth": 1},
  "header": {"labels": false, "title": null},
  "axis": {"grid": false, "domain": false, "labelFontSize": 12.5, "labelColor": "#333333", "titleFontSize": 12, "titleFontWeight": "normal", "titleColor": "#333333", "tickColor": "#777777", "labelPadding": 2},
  "axisY": {"tickSize": 4},
  "legend": {"orient": "right", "titleFontWeight": "normal", "titleFontSize": 12, "titleColor": "#333333", "labelFontSize": 13, "labelColor": "#222222", "labelLimit": 300, "symbolType": "square", "symbolSize": 230, "symbolStrokeWidth": 0, "rowPadding": 4, "labelOffset": 3, "offset": 6}
}
}
